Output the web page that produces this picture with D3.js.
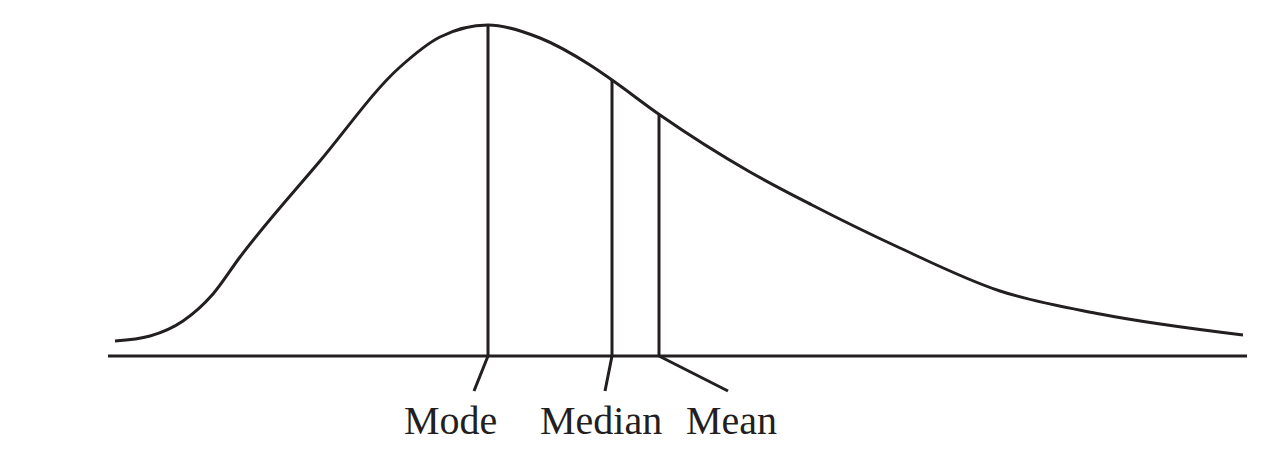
<!DOCTYPE html>
<html>
<head>
<meta charset="utf-8">
<script src="https://cdn.jsdelivr.net/npm/d3@7"></script>
<style>
  html, body { margin: 0; padding: 0; background: #fff; }
  svg { display: block; }
</style>
</head>
<body>
<svg id="chart" width="1276" height="454"></svg>
<script>
// Curve sample points: horizontal position and density height (above baseline)
const curveX = [115,150,183,213,240,320,400,440,488,540,590,612,660,750,812,900,1000,1100,1243];
const curveY = [15,20,35,62,99,195,289,319,331,318,291,276,241,184,151,108,65,42,21];

// Markers on the axis
const markerNames = ["Mode", "Median", "Mean"];
const markerX = [488, 612, 659];
const markerY = [331, 276, 242];
const leaderEndX = [474, 605, 728];
const labelX = [404, 540, 686];

const ink = "#231f20";
const svg = d3.select("#chart");

const x = d3.scaleLinear().domain([108, 1247]).range([108, 1247]);
const y = d3.scaleLinear().domain([0, 331]).range([356, 25]);

// baseline
svg.append("line")
  .attr("x1", x(108)).attr("x2", x(1247))
  .attr("y1", y(0)).attr("y2", y(0))
  .attr("stroke", ink).attr("stroke-width", 3);

// curve
const pts = curveX.map((v, i) => [v, curveY[i]]);
const line = d3.line().x(d => x(d[0])).y(d => y(d[1])).curve(d3.curveMonotoneX);
svg.append("path")
  .attr("d", line(pts))
  .attr("fill", "none")
  .attr("stroke", ink)
  .attr("stroke-width", 3)
  .attr("stroke-linecap", "butt");

// vertical marker lines
markerX.forEach((mx, i) => {
  svg.append("line")
    .attr("x1", x(mx)).attr("x2", x(mx))
    .attr("y1", y(0)).attr("y2", y(markerY[i]))
    .attr("stroke", ink).attr("stroke-width", 3);
  // leader lines
  svg.append("line")
    .attr("x1", x(mx)).attr("x2", x(leaderEndX[i]))
    .attr("y1", y(0)).attr("y2", 391)
    .attr("stroke", ink).attr("stroke-width", 3);
  // labels
  svg.append("text")
    .attr("x", x(labelX[i])).attr("y", 434)
    .attr("font-family", "'Liberation Serif', 'Times New Roman', serif")
    .attr("font-size", 40)
    .attr("fill", ink)
    .text(markerNames[i]);
});
</script>
</body>
</html>
